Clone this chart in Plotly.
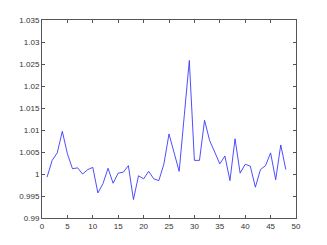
import plotly.graph_objects as go

x_vals = list(range(1, 49))
y_vals = [0.9993, 1.0031, 1.0048, 1.0097, 1.0046, 1.0012, 1.0014, 1.0000,
          1.0010, 1.0015, 0.9957, 0.9978, 1.0013, 0.9979, 1.0002, 1.0004,
          1.0019, 0.9942, 0.9996, 0.9989, 1.0006, 0.9989, 0.9985, 1.0023,
          1.0091, 1.0049, 1.0006, 1.0132, 1.0258, 1.0031, 1.0031, 1.0122,
          1.0076, 1.0050, 1.0023, 1.0041, 0.9985, 1.0080, 1.0002, 1.0022,
          1.0018, 0.9970, 1.0010, 1.0019, 1.0048, 0.9987, 1.0066, 1.0010]

x_ticks = [0, 5, 10, 15, 20, 25, 30, 35, 40, 45, 50]
y_ticks = [0.99, 0.995, 1.0, 1.005, 1.01, 1.015, 1.02, 1.025, 1.03, 1.035]
y_tick_text = ["0.99", "0.995", "1", "1.005", "1.01", "1.015", "1.02", "1.025", "1.03", "1.035"]

fig = go.Figure()
fig.add_trace(go.Scatter(x=x_vals, y=y_vals, mode="lines",
                         line=dict(color="#3a3aff", width=0.9), showlegend=False))

axis_common = dict(showgrid=False, zeroline=False, showline=True, linecolor="#555555",
                   linewidth=1, mirror="ticks", ticks="inside", ticklen=3,
                   tickcolor="#555555", tickwidth=1,
                   tickfont=dict(family="Liberation Sans, Arial", size=8, color="#333333"))

fig.update_xaxes(range=[0, 50], tickvals=x_ticks, ticktext=[str(t) for t in x_ticks], **axis_common)
fig.update_yaxes(range=[0.99, 1.035], tickvals=y_ticks, ticktext=y_tick_text, **axis_common)

fig.update_layout(width=327, height=245, margin=dict(l=42, r=31, t=20, b=27),
                  plot_bgcolor="white", paper_bgcolor="white")

fig.write_html("out.html")
